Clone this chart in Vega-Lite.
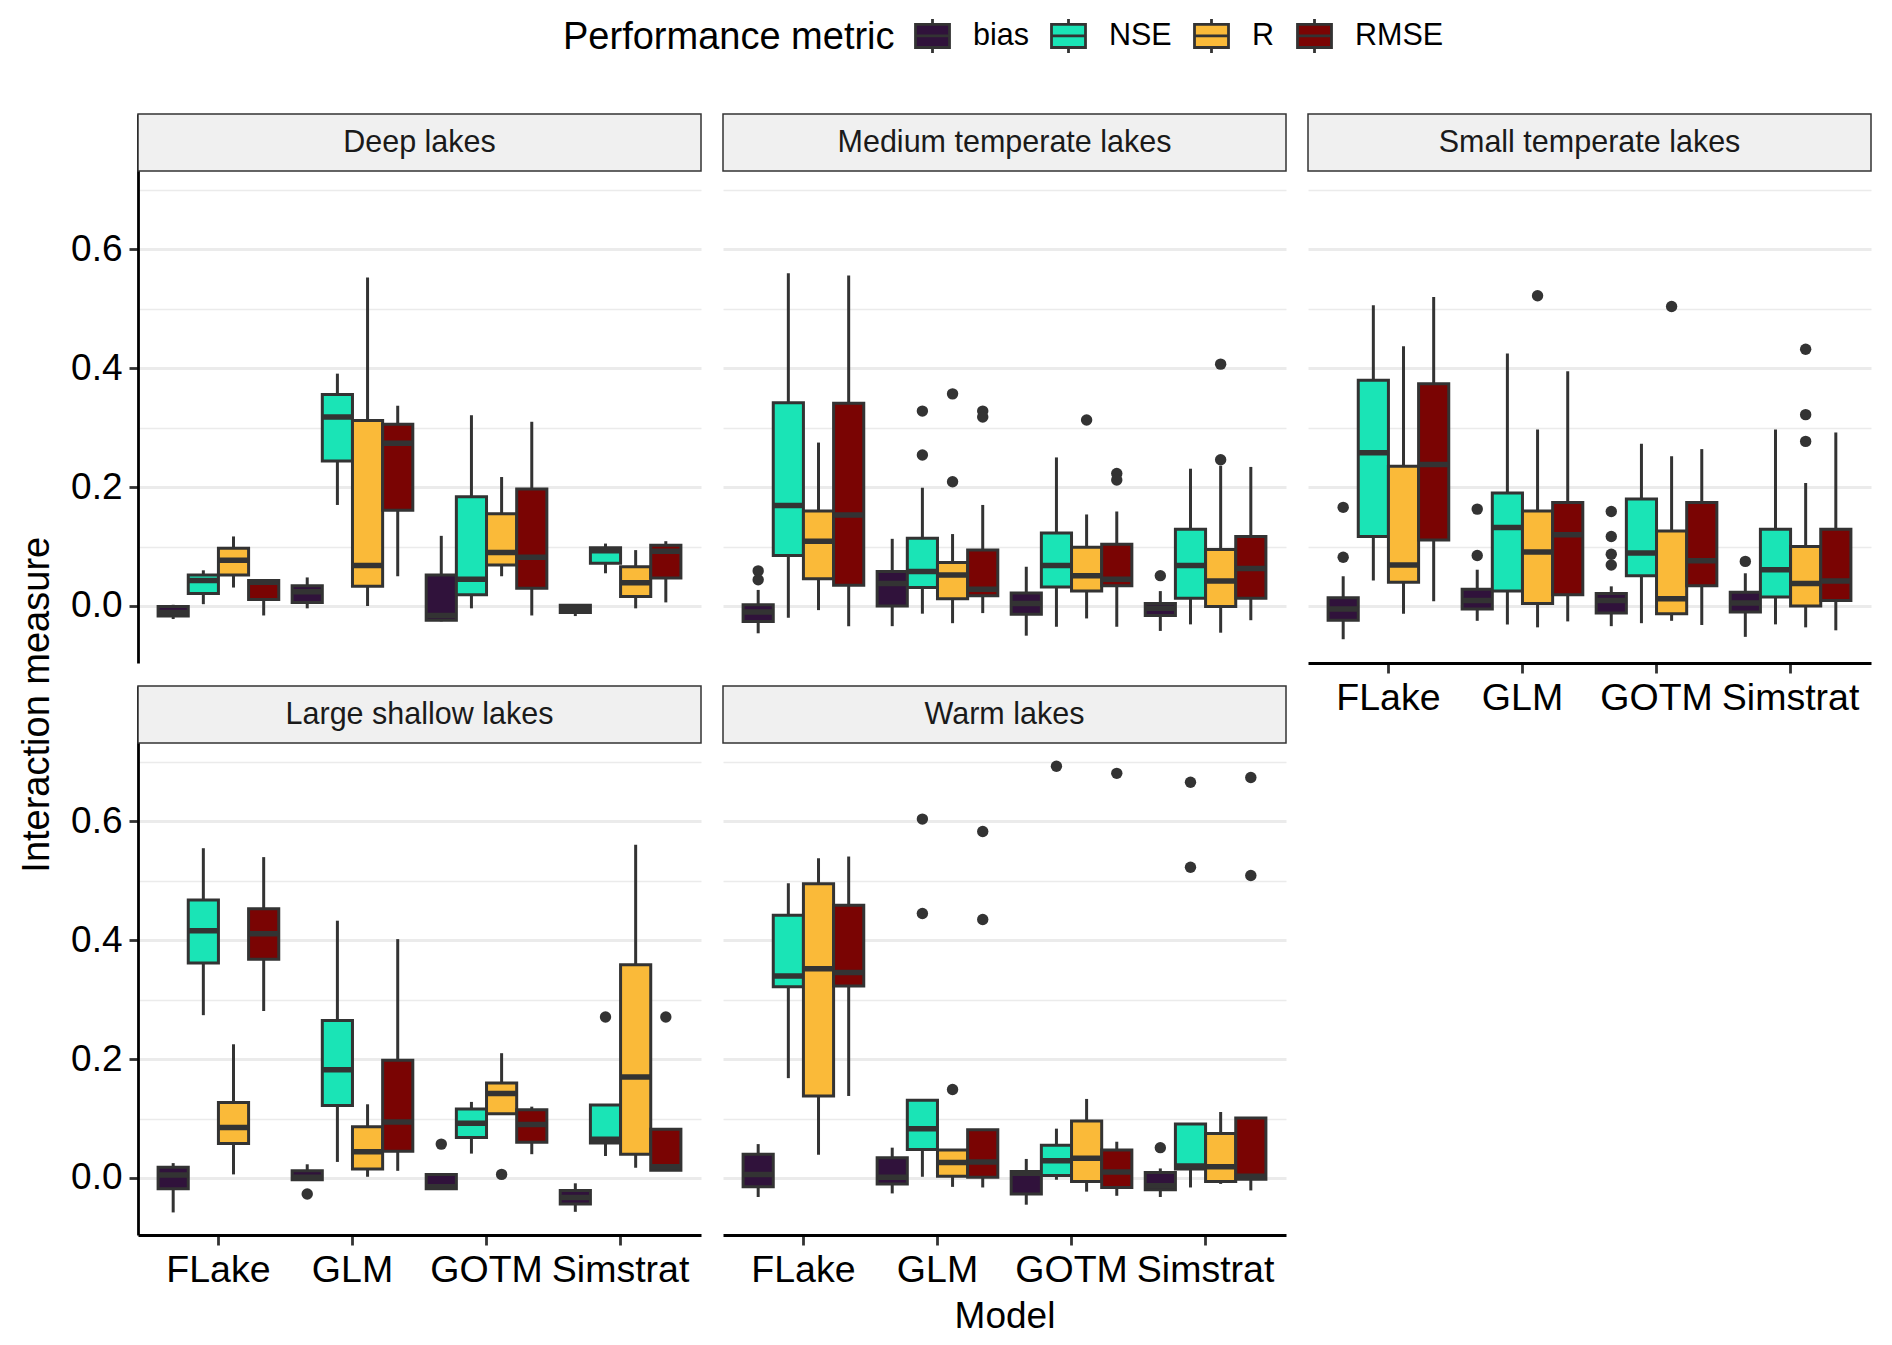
{
  "$schema": "https://vega.github.io/schema/vega-lite/v6.json",
  "background": "white",
  "padding": {"left": 18, "top": 17, "right": 5, "bottom": 5},
  "title": {"text": "Interaction measure", "orient": "left", "anchor": "middle", "fontSize": 38, "fontWeight": "normal", "color": "black", "offset": 14, "dx": -29},
  "datasets": {
    "boxes": [
      {"panel": "Deep lakes", "model": "FLake", "metric": "bias", "lower": -0.022, "q1": -0.017, "median": -0.011, "q3": -0.001, "upper": 0.002},
      {"panel": "Deep lakes", "model": "FLake", "metric": "NSE", "lower": 0.003, "q1": 0.021, "median": 0.043, "q3": 0.052, "upper": 0.060},
      {"panel": "Deep lakes", "model": "FLake", "metric": "R", "lower": 0.031, "q1": 0.052, "median": 0.077, "q3": 0.097, "upper": 0.117},
      {"panel": "Deep lakes", "model": "FLake", "metric": "RMSE", "lower": -0.016, "q1": 0.011, "median": 0.040, "q3": 0.043, "upper": 0.043},
      {"panel": "Deep lakes", "model": "GLM", "metric": "bias", "lower": -0.004, "q1": 0.006, "median": 0.024, "q3": 0.034, "upper": 0.048},
      {"panel": "Deep lakes", "model": "GLM", "metric": "NSE", "lower": 0.170, "q1": 0.244, "median": 0.318, "q3": 0.356, "upper": 0.391},
      {"panel": "Deep lakes", "model": "GLM", "metric": "R", "lower": 0.000, "q1": 0.033, "median": 0.068, "q3": 0.312, "upper": 0.553},
      {"panel": "Deep lakes", "model": "GLM", "metric": "RMSE", "lower": 0.050, "q1": 0.161, "median": 0.274, "q3": 0.306, "upper": 0.337},
      {"panel": "Deep lakes", "model": "GOTM", "metric": "bias", "lower": -0.026, "q1": -0.024, "median": -0.016, "q3": 0.052, "upper": 0.118},
      {"panel": "Deep lakes", "model": "GOTM", "metric": "NSE", "lower": -0.004, "q1": 0.019, "median": 0.045, "q3": 0.184, "upper": 0.321},
      {"panel": "Deep lakes", "model": "GOTM", "metric": "R", "lower": 0.050, "q1": 0.069, "median": 0.090, "q3": 0.155, "upper": 0.217},
      {"panel": "Deep lakes", "model": "GOTM", "metric": "RMSE", "lower": -0.016, "q1": 0.030, "median": 0.082, "q3": 0.197, "upper": 0.310},
      {"panel": "Deep lakes", "model": "Simstrat", "metric": "bias", "lower": -0.017, "q1": -0.011, "median": -0.004, "q3": 0.001, "upper": 0.001},
      {"panel": "Deep lakes", "model": "Simstrat", "metric": "NSE", "lower": 0.055, "q1": 0.072, "median": 0.093, "q3": 0.098, "upper": 0.105},
      {"panel": "Deep lakes", "model": "Simstrat", "metric": "R", "lower": -0.004, "q1": 0.016, "median": 0.039, "q3": 0.066, "upper": 0.094},
      {"panel": "Deep lakes", "model": "Simstrat", "metric": "RMSE", "lower": 0.006, "q1": 0.047, "median": 0.092, "q3": 0.102, "upper": 0.109},

      {"panel": "Medium temperate lakes", "model": "FLake", "metric": "bias", "lower": -0.046, "q1": -0.026, "median": -0.010, "q3": 0.002, "upper": 0.027},
      {"panel": "Medium temperate lakes", "model": "FLake", "metric": "NSE", "lower": -0.020, "q1": 0.085, "median": 0.169, "q3": 0.342, "upper": 0.560},
      {"panel": "Medium temperate lakes", "model": "FLake", "metric": "R", "lower": -0.007, "q1": 0.046, "median": 0.109, "q3": 0.160, "upper": 0.275},
      {"panel": "Medium temperate lakes", "model": "FLake", "metric": "RMSE", "lower": -0.034, "q1": 0.035, "median": 0.153, "q3": 0.341, "upper": 0.556},
      {"panel": "Medium temperate lakes", "model": "GLM", "metric": "bias", "lower": -0.034, "q1": 0.000, "median": 0.038, "q3": 0.058, "upper": 0.113},
      {"panel": "Medium temperate lakes", "model": "GLM", "metric": "NSE", "lower": -0.013, "q1": 0.031, "median": 0.058, "q3": 0.114, "upper": 0.199},
      {"panel": "Medium temperate lakes", "model": "GLM", "metric": "R", "lower": -0.029, "q1": 0.012, "median": 0.052, "q3": 0.073, "upper": 0.121},
      {"panel": "Medium temperate lakes", "model": "GLM", "metric": "RMSE", "lower": -0.012, "q1": 0.017, "median": 0.028, "q3": 0.094, "upper": 0.170},
      {"panel": "Medium temperate lakes", "model": "GOTM", "metric": "bias", "lower": -0.050, "q1": -0.014, "median": 0.004, "q3": 0.022, "upper": 0.066},
      {"panel": "Medium temperate lakes", "model": "GOTM", "metric": "NSE", "lower": -0.035, "q1": 0.032, "median": 0.068, "q3": 0.123, "upper": 0.250},
      {"panel": "Medium temperate lakes", "model": "GOTM", "metric": "R", "lower": -0.021, "q1": 0.025, "median": 0.051, "q3": 0.099, "upper": 0.154},
      {"panel": "Medium temperate lakes", "model": "GOTM", "metric": "RMSE", "lower": -0.035, "q1": 0.034, "median": 0.045, "q3": 0.104, "upper": 0.159},
      {"panel": "Medium temperate lakes", "model": "Simstrat", "metric": "bias", "lower": -0.042, "q1": -0.016, "median": -0.004, "q3": 0.004, "upper": 0.025},
      {"panel": "Medium temperate lakes", "model": "Simstrat", "metric": "NSE", "lower": -0.031, "q1": 0.013, "median": 0.068, "q3": 0.129, "upper": 0.231},
      {"panel": "Medium temperate lakes", "model": "Simstrat", "metric": "R", "lower": -0.045, "q1": -0.001, "median": 0.042, "q3": 0.095, "upper": 0.236},
      {"panel": "Medium temperate lakes", "model": "Simstrat", "metric": "RMSE", "lower": -0.024, "q1": 0.013, "median": 0.063, "q3": 0.117, "upper": 0.234},

      {"panel": "Small temperate lakes", "model": "FLake", "metric": "bias", "lower": -0.056, "q1": -0.024, "median": -0.005, "q3": 0.014, "upper": 0.050},
      {"panel": "Small temperate lakes", "model": "FLake", "metric": "NSE", "lower": 0.043, "q1": 0.117, "median": 0.258, "q3": 0.380, "upper": 0.506},
      {"panel": "Small temperate lakes", "model": "FLake", "metric": "R", "lower": -0.013, "q1": 0.040, "median": 0.069, "q3": 0.235, "upper": 0.437},
      {"panel": "Small temperate lakes", "model": "FLake", "metric": "RMSE", "lower": 0.008, "q1": 0.111, "median": 0.238, "q3": 0.374, "upper": 0.520},
      {"panel": "Small temperate lakes", "model": "GLM", "metric": "bias", "lower": -0.025, "q1": -0.005, "median": 0.009, "q3": 0.028, "upper": 0.061},
      {"panel": "Small temperate lakes", "model": "GLM", "metric": "NSE", "lower": -0.031, "q1": 0.025, "median": 0.132, "q3": 0.190, "upper": 0.425},
      {"panel": "Small temperate lakes", "model": "GLM", "metric": "R", "lower": -0.036, "q1": 0.004, "median": 0.091, "q3": 0.160, "upper": 0.297},
      {"panel": "Small temperate lakes", "model": "GLM", "metric": "RMSE", "lower": -0.026, "q1": 0.019, "median": 0.120, "q3": 0.174, "upper": 0.395},
      {"panel": "Small temperate lakes", "model": "GOTM", "metric": "bias", "lower": -0.034, "q1": -0.012, "median": 0.009, "q3": 0.021, "upper": 0.033},
      {"panel": "Small temperate lakes", "model": "GOTM", "metric": "NSE", "lower": -0.029, "q1": 0.051, "median": 0.089, "q3": 0.180, "upper": 0.273},
      {"panel": "Small temperate lakes", "model": "GOTM", "metric": "R", "lower": -0.025, "q1": -0.013, "median": 0.012, "q3": 0.126, "upper": 0.252},
      {"panel": "Small temperate lakes", "model": "GOTM", "metric": "RMSE", "lower": -0.032, "q1": 0.034, "median": 0.076, "q3": 0.174, "upper": 0.264},
      {"panel": "Small temperate lakes", "model": "Simstrat", "metric": "bias", "lower": -0.052, "q1": -0.010, "median": 0.005, "q3": 0.023, "upper": 0.055},
      {"panel": "Small temperate lakes", "model": "Simstrat", "metric": "NSE", "lower": -0.031, "q1": 0.015, "median": 0.061, "q3": 0.129, "upper": 0.297},
      {"panel": "Small temperate lakes", "model": "Simstrat", "metric": "R", "lower": -0.036, "q1": 0.000, "median": 0.038, "q3": 0.100, "upper": 0.207},
      {"panel": "Small temperate lakes", "model": "Simstrat", "metric": "RMSE", "lower": -0.041, "q1": 0.009, "median": 0.042, "q3": 0.129, "upper": 0.292},

      {"panel": "Large shallow lakes", "model": "FLake", "metric": "bias", "lower": -0.058, "q1": -0.018, "median": 0.005, "q3": 0.018, "upper": 0.025},
      {"panel": "Large shallow lakes", "model": "FLake", "metric": "NSE", "lower": 0.274, "q1": 0.362, "median": 0.416, "q3": 0.468, "upper": 0.555},
      {"panel": "Large shallow lakes", "model": "FLake", "metric": "R", "lower": 0.006, "q1": 0.058, "median": 0.085, "q3": 0.127, "upper": 0.225},
      {"panel": "Large shallow lakes", "model": "FLake", "metric": "RMSE", "lower": 0.281, "q1": 0.368, "median": 0.411, "q3": 0.453, "upper": 0.540},
      {"panel": "Large shallow lakes", "model": "GLM", "metric": "bias", "lower": -0.003, "q1": -0.003, "median": 0.001, "q3": 0.012, "upper": 0.023},
      {"panel": "Large shallow lakes", "model": "GLM", "metric": "NSE", "lower": 0.027, "q1": 0.122, "median": 0.182, "q3": 0.265, "upper": 0.433},
      {"panel": "Large shallow lakes", "model": "GLM", "metric": "R", "lower": 0.002, "q1": 0.015, "median": 0.044, "q3": 0.086, "upper": 0.124},
      {"panel": "Large shallow lakes", "model": "GLM", "metric": "RMSE", "lower": 0.012, "q1": 0.045, "median": 0.094, "q3": 0.198, "upper": 0.402},
      {"panel": "Large shallow lakes", "model": "GOTM", "metric": "bias", "lower": -0.018, "q1": -0.018, "median": -0.015, "q3": 0.006, "upper": 0.006},
      {"panel": "Large shallow lakes", "model": "GOTM", "metric": "NSE", "lower": 0.041, "q1": 0.068, "median": 0.092, "q3": 0.116, "upper": 0.128},
      {"panel": "Large shallow lakes", "model": "GOTM", "metric": "R", "lower": 0.108, "q1": 0.108, "median": 0.142, "q3": 0.160, "upper": 0.210},
      {"panel": "Large shallow lakes", "model": "GOTM", "metric": "RMSE", "lower": 0.040, "q1": 0.060, "median": 0.090, "q3": 0.115, "upper": 0.120},
      {"panel": "Large shallow lakes", "model": "Simstrat", "metric": "bias", "lower": -0.057, "q1": -0.044, "median": -0.033, "q3": -0.021, "upper": -0.009},
      {"panel": "Large shallow lakes", "model": "Simstrat", "metric": "NSE", "lower": 0.037, "q1": 0.059, "median": 0.065, "q3": 0.123, "upper": 0.123},
      {"panel": "Large shallow lakes", "model": "Simstrat", "metric": "R", "lower": 0.017, "q1": 0.040, "median": 0.170, "q3": 0.359, "upper": 0.561},
      {"panel": "Large shallow lakes", "model": "Simstrat", "metric": "RMSE", "lower": 0.013, "q1": 0.013, "median": 0.019, "q3": 0.082, "upper": 0.082},

      {"panel": "Warm lakes", "model": "FLake", "metric": "bias", "lower": -0.032, "q1": -0.015, "median": 0.006, "q3": 0.040, "upper": 0.057},
      {"panel": "Warm lakes", "model": "FLake", "metric": "NSE", "lower": 0.168, "q1": 0.322, "median": 0.340, "q3": 0.442, "upper": 0.496},
      {"panel": "Warm lakes", "model": "FLake", "metric": "R", "lower": 0.039, "q1": 0.138, "median": 0.352, "q3": 0.495, "upper": 0.538},
      {"panel": "Warm lakes", "model": "FLake", "metric": "RMSE", "lower": 0.138, "q1": 0.323, "median": 0.346, "q3": 0.459, "upper": 0.541},
      {"panel": "Warm lakes", "model": "GLM", "metric": "bias", "lower": -0.026, "q1": -0.010, "median": 0.001, "q3": 0.034, "upper": 0.051},
      {"panel": "Warm lakes", "model": "GLM", "metric": "NSE", "lower": 0.002, "q1": 0.048, "median": 0.083, "q3": 0.131, "upper": 0.131},
      {"panel": "Warm lakes", "model": "GLM", "metric": "R", "lower": -0.015, "q1": 0.003, "median": 0.026, "q3": 0.047, "upper": 0.047},
      {"panel": "Warm lakes", "model": "GLM", "metric": "RMSE", "lower": -0.016, "q1": 0.001, "median": 0.027, "q3": 0.081, "upper": 0.081},
      {"panel": "Warm lakes", "model": "GOTM", "metric": "bias", "lower": -0.045, "q1": -0.027, "median": 0.008, "q3": 0.011, "upper": 0.032},
      {"panel": "Warm lakes", "model": "GOTM", "metric": "NSE", "lower": -0.003, "q1": 0.004, "median": 0.029, "q3": 0.055, "upper": 0.083},
      {"panel": "Warm lakes", "model": "GOTM", "metric": "R", "lower": -0.023, "q1": -0.006, "median": 0.033, "q3": 0.096, "upper": 0.133},
      {"panel": "Warm lakes", "model": "GOTM", "metric": "RMSE", "lower": -0.030, "q1": -0.016, "median": 0.010, "q3": 0.047, "upper": 0.061},
      {"panel": "Warm lakes", "model": "Simstrat", "metric": "bias", "lower": -0.032, "q1": -0.020, "median": -0.013, "q3": 0.009, "upper": 0.016},
      {"panel": "Warm lakes", "model": "Simstrat", "metric": "NSE", "lower": -0.016, "q1": 0.015, "median": 0.020, "q3": 0.091, "upper": 0.091},
      {"panel": "Warm lakes", "model": "Simstrat", "metric": "R", "lower": -0.010, "q1": -0.006, "median": 0.019, "q3": 0.075, "upper": 0.111},
      {"panel": "Warm lakes", "model": "Simstrat", "metric": "RMSE", "lower": -0.021, "q1": -0.002, "median": 0.003, "q3": 0.101, "upper": 0.101}
    ],
    "outliers": [
      {"panel": "Medium temperate lakes", "model": "FLake", "metric": "bias", "value": 0.059},
      {"panel": "Medium temperate lakes", "model": "FLake", "metric": "bias", "value": 0.044},
      {"panel": "Medium temperate lakes", "model": "GLM", "metric": "NSE", "value": 0.328},
      {"panel": "Medium temperate lakes", "model": "GLM", "metric": "NSE", "value": 0.254},
      {"panel": "Medium temperate lakes", "model": "GLM", "metric": "R", "value": 0.357},
      {"panel": "Medium temperate lakes", "model": "GLM", "metric": "R", "value": 0.209},
      {"panel": "Medium temperate lakes", "model": "GLM", "metric": "RMSE", "value": 0.328},
      {"panel": "Medium temperate lakes", "model": "GLM", "metric": "RMSE", "value": 0.318},
      {"panel": "Medium temperate lakes", "model": "GOTM", "metric": "R", "value": 0.313},
      {"panel": "Medium temperate lakes", "model": "GOTM", "metric": "RMSE", "value": 0.223},
      {"panel": "Medium temperate lakes", "model": "GOTM", "metric": "RMSE", "value": 0.212},
      {"panel": "Medium temperate lakes", "model": "Simstrat", "metric": "bias", "value": 0.051},
      {"panel": "Medium temperate lakes", "model": "Simstrat", "metric": "R", "value": 0.407},
      {"panel": "Medium temperate lakes", "model": "Simstrat", "metric": "R", "value": 0.246},
      {"panel": "Small temperate lakes", "model": "FLake", "metric": "bias", "value": 0.166},
      {"panel": "Small temperate lakes", "model": "FLake", "metric": "bias", "value": 0.082},
      {"panel": "Small temperate lakes", "model": "GLM", "metric": "bias", "value": 0.163},
      {"panel": "Small temperate lakes", "model": "GLM", "metric": "bias", "value": 0.085},
      {"panel": "Small temperate lakes", "model": "GLM", "metric": "R", "value": 0.522},
      {"panel": "Small temperate lakes", "model": "GOTM", "metric": "bias", "value": 0.159},
      {"panel": "Small temperate lakes", "model": "GOTM", "metric": "bias", "value": 0.117},
      {"panel": "Small temperate lakes", "model": "GOTM", "metric": "bias", "value": 0.087},
      {"panel": "Small temperate lakes", "model": "GOTM", "metric": "bias", "value": 0.069},
      {"panel": "Small temperate lakes", "model": "GOTM", "metric": "R", "value": 0.504},
      {"panel": "Small temperate lakes", "model": "Simstrat", "metric": "bias", "value": 0.075},
      {"panel": "Small temperate lakes", "model": "Simstrat", "metric": "R", "value": 0.432},
      {"panel": "Small temperate lakes", "model": "Simstrat", "metric": "R", "value": 0.322},
      {"panel": "Small temperate lakes", "model": "Simstrat", "metric": "R", "value": 0.277},
      {"panel": "Large shallow lakes", "model": "GLM", "metric": "bias", "value": -0.027},
      {"panel": "Large shallow lakes", "model": "GOTM", "metric": "bias", "value": 0.057},
      {"panel": "Large shallow lakes", "model": "GOTM", "metric": "R", "value": 0.006},
      {"panel": "Large shallow lakes", "model": "Simstrat", "metric": "NSE", "value": 0.271},
      {"panel": "Large shallow lakes", "model": "Simstrat", "metric": "RMSE", "value": 0.271},
      {"panel": "Warm lakes", "model": "GLM", "metric": "NSE", "value": 0.604},
      {"panel": "Warm lakes", "model": "GLM", "metric": "NSE", "value": 0.445},
      {"panel": "Warm lakes", "model": "GLM", "metric": "R", "value": 0.149},
      {"panel": "Warm lakes", "model": "GLM", "metric": "RMSE", "value": 0.583},
      {"panel": "Warm lakes", "model": "GLM", "metric": "RMSE", "value": 0.435},
      {"panel": "Warm lakes", "model": "GOTM", "metric": "NSE", "value": 0.693},
      {"panel": "Warm lakes", "model": "GOTM", "metric": "RMSE", "value": 0.681},
      {"panel": "Warm lakes", "model": "Simstrat", "metric": "bias", "value": 0.051},
      {"panel": "Warm lakes", "model": "Simstrat", "metric": "NSE", "value": 0.666},
      {"panel": "Warm lakes", "model": "Simstrat", "metric": "NSE", "value": 0.523},
      {"panel": "Warm lakes", "model": "Simstrat", "metric": "RMSE", "value": 0.674},
      {"panel": "Warm lakes", "model": "Simstrat", "metric": "RMSE", "value": 0.509}
    ]
  },
  "columns": 3,
  "spacing": {"row": 23, "column": 22},
  "bounds": "flush",
  "concat": [
    {
      "width": 563, "height": 549,
      "layer": [
        {"data": {"name": "boxes"}, "transform": [{"filter": "datum.panel === 'Deep lakes'"}],
         "mark": {"type": "rule", "color": "#333333", "strokeWidth": 3},
         "encoding": {
           "x": {"field": "model", "type": "nominal", "sort": ["FLake", "GLM", "GOTM", "Simstrat"], "title": null, "scale": {"paddingInner": 0, "paddingOuter": 0.1}, "axis": {"labels": false, "ticks": false, "domain": false}},
           "xOffset": {"field": "metric", "type": "nominal", "sort": ["bias", "NSE", "R", "RMSE"], "scale": {"paddingInner": 0, "paddingOuter": 0.222}},
           "y": {"field": "lower", "type": "quantitative", "title": null, "scale": {"domain": [-0.096, 0.828], "nice": false, "zero": false},
                 "axis": {"values": [0, 0.1, 0.2, 0.3, 0.4, 0.5, 0.6, 0.7], "labelExpr": "round(datum.value*10) % 2 == 0 ? format(datum.value, '.1f') : ''",
                          "gridWidth": {"condition": {"test": "round(datum.value*10) % 2 != 0", "value": 1.5}, "value": 3},
                          "tickOpacity": {"condition": {"test": "round(datum.value*10) % 2 != 0", "value": 0}, "value": 1}}},
           "y2": {"field": "upper"}
         }},
        {"data": {"name": "boxes"}, "transform": [{"filter": "datum.panel === 'Deep lakes'"}],
         "mark": {"type": "bar", "stroke": "#333333", "strokeWidth": 3},
         "encoding": {
           "x": {"field": "model", "type": "nominal", "sort": ["FLake", "GLM", "GOTM", "Simstrat"], "title": null},
           "xOffset": {"field": "metric", "type": "nominal", "sort": ["bias", "NSE", "R", "RMSE"]},
           "y": {"field": "q1", "type": "quantitative", "title": null},
           "y2": {"field": "q3"},
           "color": {"field": "metric", "type": "nominal", "title": "Performance metric", "scale": {"domain": ["bias", "NSE", "R", "RMSE"], "range": ["#30123B", "#1AE4B6", "#FABA39", "#7A0403"]}}
         }},
        {"data": {"name": "boxes"}, "transform": [{"filter": "datum.panel === 'Deep lakes'"}],
         "mark": {"type": "bar", "fill": "#333333", "stroke": "#333333", "strokeWidth": 5.5},
         "encoding": {
           "x": {"field": "model", "type": "nominal", "sort": ["FLake", "GLM", "GOTM", "Simstrat"], "title": null},
           "xOffset": {"field": "metric", "type": "nominal", "sort": ["bias", "NSE", "R", "RMSE"]},
           "y": {"field": "median", "type": "quantitative", "title": null},
           "y2": {"field": "median"}
         }},
        {"data": {"name": "outliers"}, "transform": [{"filter": "datum.panel === 'Deep lakes'"}],
         "mark": {"type": "point", "filled": true, "color": "#333333", "size": 130, "opacity": 1},
         "encoding": {
           "x": {"field": "model", "type": "nominal", "sort": ["FLake", "GLM", "GOTM", "Simstrat"], "title": null},
           "xOffset": {"field": "metric", "type": "nominal", "sort": ["bias", "NSE", "R", "RMSE"]},
           "y": {"field": "value", "type": "quantitative", "title": null}
         }},
        {"data": {"values": [{"strip": "Deep lakes"}]},
         "mark": {"type": "rect", "fill": "#F0F0F0", "stroke": "#333333", "strokeWidth": 1.5},
         "encoding": {"y": {"datum": 0.732, "type": "quantitative", "title": null}, "y2": {"datum": 0.828}}},
        {"data": {"values": [{"strip": "Deep lakes"}]},
         "mark": {"type": "text", "fontSize": 30.5, "color": "#1A1A1A"},
         "encoding": {"y": {"datum": 0.780, "type": "quantitative", "title": null}, "text": {"field": "strip"}}}
      ]
    },
    {
      "width": 563, "height": 549,
      "layer": [
        {"data": {"name": "boxes"}, "transform": [{"filter": "datum.panel === 'Medium temperate lakes'"}],
         "mark": {"type": "rule", "color": "#333333", "strokeWidth": 3},
         "encoding": {
           "x": {"field": "model", "type": "nominal", "sort": ["FLake", "GLM", "GOTM", "Simstrat"], "title": null, "scale": {"paddingInner": 0, "paddingOuter": 0.1}, "axis": {"labels": false, "ticks": false, "domain": false}},
           "xOffset": {"field": "metric", "type": "nominal", "sort": ["bias", "NSE", "R", "RMSE"], "scale": {"paddingInner": 0, "paddingOuter": 0.222}},
           "y": {"field": "lower", "type": "quantitative", "title": null, "scale": {"domain": [-0.096, 0.828], "nice": false, "zero": false},
                 "axis": {"values": [0, 0.1, 0.2, 0.3, 0.4, 0.5, 0.6, 0.7], "labels": false, "ticks": false, "domain": false,
                          "gridWidth": {"condition": {"test": "round(datum.value*10) % 2 != 0", "value": 1.5}, "value": 3}}},
           "y2": {"field": "upper"}
         }},
        {"data": {"name": "boxes"}, "transform": [{"filter": "datum.panel === 'Medium temperate lakes'"}],
         "mark": {"type": "bar", "stroke": "#333333", "strokeWidth": 3},
         "encoding": {
           "x": {"field": "model", "type": "nominal", "sort": ["FLake", "GLM", "GOTM", "Simstrat"], "title": null},
           "xOffset": {"field": "metric", "type": "nominal", "sort": ["bias", "NSE", "R", "RMSE"]},
           "y": {"field": "q1", "type": "quantitative", "title": null},
           "y2": {"field": "q3"},
           "color": {"field": "metric", "type": "nominal", "title": "Performance metric", "scale": {"domain": ["bias", "NSE", "R", "RMSE"], "range": ["#30123B", "#1AE4B6", "#FABA39", "#7A0403"]}}
         }},
        {"data": {"name": "boxes"}, "transform": [{"filter": "datum.panel === 'Medium temperate lakes'"}],
         "mark": {"type": "bar", "fill": "#333333", "stroke": "#333333", "strokeWidth": 5.5},
         "encoding": {
           "x": {"field": "model", "type": "nominal", "sort": ["FLake", "GLM", "GOTM", "Simstrat"], "title": null},
           "xOffset": {"field": "metric", "type": "nominal", "sort": ["bias", "NSE", "R", "RMSE"]},
           "y": {"field": "median", "type": "quantitative", "title": null},
           "y2": {"field": "median"}
         }},
        {"data": {"name": "outliers"}, "transform": [{"filter": "datum.panel === 'Medium temperate lakes'"}],
         "mark": {"type": "point", "filled": true, "color": "#333333", "size": 130, "opacity": 1},
         "encoding": {
           "x": {"field": "model", "type": "nominal", "sort": ["FLake", "GLM", "GOTM", "Simstrat"], "title": null},
           "xOffset": {"field": "metric", "type": "nominal", "sort": ["bias", "NSE", "R", "RMSE"]},
           "y": {"field": "value", "type": "quantitative", "title": null}
         }},
        {"data": {"values": [{"strip": "Medium temperate lakes"}]},
         "mark": {"type": "rect", "fill": "#F0F0F0", "stroke": "#333333", "strokeWidth": 1.5},
         "encoding": {"y": {"datum": 0.732, "type": "quantitative", "title": null}, "y2": {"datum": 0.828}}},
        {"data": {"values": [{"strip": "Medium temperate lakes"}]},
         "mark": {"type": "text", "fontSize": 30.5, "color": "#1A1A1A"},
         "encoding": {"y": {"datum": 0.780, "type": "quantitative", "title": null}, "text": {"field": "strip"}}}
      ]
    },
    {
      "width": 563, "height": 549,
      "layer": [
        {"data": {"name": "boxes"}, "transform": [{"filter": "datum.panel === 'Small temperate lakes'"}],
         "mark": {"type": "rule", "color": "#333333", "strokeWidth": 3},
         "encoding": {
           "x": {"field": "model", "type": "nominal", "sort": ["FLake", "GLM", "GOTM", "Simstrat"], "title": null, "scale": {"paddingInner": 0, "paddingOuter": 0.1}},
           "xOffset": {"field": "metric", "type": "nominal", "sort": ["bias", "NSE", "R", "RMSE"], "scale": {"paddingInner": 0, "paddingOuter": 0.222}},
           "y": {"field": "lower", "type": "quantitative", "title": null, "scale": {"domain": [-0.096, 0.828], "nice": false, "zero": false},
                 "axis": {"values": [0, 0.1, 0.2, 0.3, 0.4, 0.5, 0.6, 0.7], "labels": false, "ticks": false, "domain": false,
                          "gridWidth": {"condition": {"test": "round(datum.value*10) % 2 != 0", "value": 1.5}, "value": 3}}},
           "y2": {"field": "upper"}
         }},
        {"data": {"name": "boxes"}, "transform": [{"filter": "datum.panel === 'Small temperate lakes'"}],
         "mark": {"type": "bar", "stroke": "#333333", "strokeWidth": 3},
         "encoding": {
           "x": {"field": "model", "type": "nominal", "sort": ["FLake", "GLM", "GOTM", "Simstrat"], "title": null},
           "xOffset": {"field": "metric", "type": "nominal", "sort": ["bias", "NSE", "R", "RMSE"]},
           "y": {"field": "q1", "type": "quantitative", "title": null},
           "y2": {"field": "q3"},
           "color": {"field": "metric", "type": "nominal", "title": "Performance metric", "scale": {"domain": ["bias", "NSE", "R", "RMSE"], "range": ["#30123B", "#1AE4B6", "#FABA39", "#7A0403"]}}
         }},
        {"data": {"name": "boxes"}, "transform": [{"filter": "datum.panel === 'Small temperate lakes'"}],
         "mark": {"type": "bar", "fill": "#333333", "stroke": "#333333", "strokeWidth": 5.5},
         "encoding": {
           "x": {"field": "model", "type": "nominal", "sort": ["FLake", "GLM", "GOTM", "Simstrat"], "title": null},
           "xOffset": {"field": "metric", "type": "nominal", "sort": ["bias", "NSE", "R", "RMSE"]},
           "y": {"field": "median", "type": "quantitative", "title": null},
           "y2": {"field": "median"}
         }},
        {"data": {"name": "outliers"}, "transform": [{"filter": "datum.panel === 'Small temperate lakes'"}],
         "mark": {"type": "point", "filled": true, "color": "#333333", "size": 130, "opacity": 1},
         "encoding": {
           "x": {"field": "model", "type": "nominal", "sort": ["FLake", "GLM", "GOTM", "Simstrat"], "title": null},
           "xOffset": {"field": "metric", "type": "nominal", "sort": ["bias", "NSE", "R", "RMSE"]},
           "y": {"field": "value", "type": "quantitative", "title": null}
         }},
        {"data": {"values": [{"strip": "Small temperate lakes"}]},
         "mark": {"type": "rect", "fill": "#F0F0F0", "stroke": "#333333", "strokeWidth": 1.5},
         "encoding": {"y": {"datum": 0.732, "type": "quantitative", "title": null}, "y2": {"datum": 0.828}}},
        {"data": {"values": [{"strip": "Small temperate lakes"}]},
         "mark": {"type": "text", "fontSize": 30.5, "color": "#1A1A1A"},
         "encoding": {"y": {"datum": 0.780, "type": "quantitative", "title": null}, "text": {"field": "strip"}}}
      ]
    },
    {
      "width": 563, "height": 549,
      "layer": [
        {"data": {"name": "boxes"}, "transform": [{"filter": "datum.panel === 'Large shallow lakes'"}],
         "mark": {"type": "rule", "color": "#333333", "strokeWidth": 3},
         "encoding": {
           "x": {"field": "model", "type": "nominal", "sort": ["FLake", "GLM", "GOTM", "Simstrat"], "title": null, "scale": {"paddingInner": 0, "paddingOuter": 0.1}},
           "xOffset": {"field": "metric", "type": "nominal", "sort": ["bias", "NSE", "R", "RMSE"], "scale": {"paddingInner": 0, "paddingOuter": 0.222}},
           "y": {"field": "lower", "type": "quantitative", "title": null, "scale": {"domain": [-0.096, 0.828], "nice": false, "zero": false},
                 "axis": {"values": [0, 0.1, 0.2, 0.3, 0.4, 0.5, 0.6, 0.7], "labelExpr": "round(datum.value*10) % 2 == 0 ? format(datum.value, '.1f') : ''",
                          "gridWidth": {"condition": {"test": "round(datum.value*10) % 2 != 0", "value": 1.5}, "value": 3},
                          "tickOpacity": {"condition": {"test": "round(datum.value*10) % 2 != 0", "value": 0}, "value": 1}}},
           "y2": {"field": "upper"}
         }},
        {"data": {"name": "boxes"}, "transform": [{"filter": "datum.panel === 'Large shallow lakes'"}],
         "mark": {"type": "bar", "stroke": "#333333", "strokeWidth": 3},
         "encoding": {
           "x": {"field": "model", "type": "nominal", "sort": ["FLake", "GLM", "GOTM", "Simstrat"], "title": null},
           "xOffset": {"field": "metric", "type": "nominal", "sort": ["bias", "NSE", "R", "RMSE"]},
           "y": {"field": "q1", "type": "quantitative", "title": null},
           "y2": {"field": "q3"},
           "color": {"field": "metric", "type": "nominal", "title": "Performance metric", "scale": {"domain": ["bias", "NSE", "R", "RMSE"], "range": ["#30123B", "#1AE4B6", "#FABA39", "#7A0403"]}}
         }},
        {"data": {"name": "boxes"}, "transform": [{"filter": "datum.panel === 'Large shallow lakes'"}],
         "mark": {"type": "bar", "fill": "#333333", "stroke": "#333333", "strokeWidth": 5.5},
         "encoding": {
           "x": {"field": "model", "type": "nominal", "sort": ["FLake", "GLM", "GOTM", "Simstrat"], "title": null},
           "xOffset": {"field": "metric", "type": "nominal", "sort": ["bias", "NSE", "R", "RMSE"]},
           "y": {"field": "median", "type": "quantitative", "title": null},
           "y2": {"field": "median"}
         }},
        {"data": {"name": "outliers"}, "transform": [{"filter": "datum.panel === 'Large shallow lakes'"}],
         "mark": {"type": "point", "filled": true, "color": "#333333", "size": 130, "opacity": 1},
         "encoding": {
           "x": {"field": "model", "type": "nominal", "sort": ["FLake", "GLM", "GOTM", "Simstrat"], "title": null},
           "xOffset": {"field": "metric", "type": "nominal", "sort": ["bias", "NSE", "R", "RMSE"]},
           "y": {"field": "value", "type": "quantitative", "title": null}
         }},
        {"data": {"values": [{"strip": "Large shallow lakes"}]},
         "mark": {"type": "rect", "fill": "#F0F0F0", "stroke": "#333333", "strokeWidth": 1.5},
         "encoding": {"y": {"datum": 0.732, "type": "quantitative", "title": null}, "y2": {"datum": 0.828}}},
        {"data": {"values": [{"strip": "Large shallow lakes"}]},
         "mark": {"type": "text", "fontSize": 30.5, "color": "#1A1A1A"},
         "encoding": {"y": {"datum": 0.780, "type": "quantitative", "title": null}, "text": {"field": "strip"}}}
      ]
    },
    {
      "width": 563, "height": 549,
      "layer": [
        {"data": {"name": "boxes"}, "transform": [{"filter": "datum.panel === 'Warm lakes'"}],
         "mark": {"type": "rule", "color": "#333333", "strokeWidth": 3},
         "encoding": {
           "x": {"field": "model", "type": "nominal", "sort": ["FLake", "GLM", "GOTM", "Simstrat"], "title": "Model", "scale": {"paddingInner": 0, "paddingOuter": 0.1}},
           "xOffset": {"field": "metric", "type": "nominal", "sort": ["bias", "NSE", "R", "RMSE"], "scale": {"paddingInner": 0, "paddingOuter": 0.222}},
           "y": {"field": "lower", "type": "quantitative", "title": null, "scale": {"domain": [-0.096, 0.828], "nice": false, "zero": false},
                 "axis": {"values": [0, 0.1, 0.2, 0.3, 0.4, 0.5, 0.6, 0.7], "labels": false, "ticks": false, "domain": false,
                          "gridWidth": {"condition": {"test": "round(datum.value*10) % 2 != 0", "value": 1.5}, "value": 3}}},
           "y2": {"field": "upper"}
         }},
        {"data": {"name": "boxes"}, "transform": [{"filter": "datum.panel === 'Warm lakes'"}],
         "mark": {"type": "bar", "stroke": "#333333", "strokeWidth": 3},
         "encoding": {
           "x": {"field": "model", "type": "nominal", "sort": ["FLake", "GLM", "GOTM", "Simstrat"], "title": "Model"},
           "xOffset": {"field": "metric", "type": "nominal", "sort": ["bias", "NSE", "R", "RMSE"]},
           "y": {"field": "q1", "type": "quantitative", "title": null},
           "y2": {"field": "q3"},
           "color": {"field": "metric", "type": "nominal", "title": "Performance metric", "scale": {"domain": ["bias", "NSE", "R", "RMSE"], "range": ["#30123B", "#1AE4B6", "#FABA39", "#7A0403"]}}
         }},
        {"data": {"name": "boxes"}, "transform": [{"filter": "datum.panel === 'Warm lakes'"}],
         "mark": {"type": "bar", "fill": "#333333", "stroke": "#333333", "strokeWidth": 5.5},
         "encoding": {
           "x": {"field": "model", "type": "nominal", "sort": ["FLake", "GLM", "GOTM", "Simstrat"], "title": "Model"},
           "xOffset": {"field": "metric", "type": "nominal", "sort": ["bias", "NSE", "R", "RMSE"]},
           "y": {"field": "median", "type": "quantitative", "title": null},
           "y2": {"field": "median"}
         }},
        {"data": {"name": "outliers"}, "transform": [{"filter": "datum.panel === 'Warm lakes'"}],
         "mark": {"type": "point", "filled": true, "color": "#333333", "size": 130, "opacity": 1},
         "encoding": {
           "x": {"field": "model", "type": "nominal", "sort": ["FLake", "GLM", "GOTM", "Simstrat"], "title": "Model"},
           "xOffset": {"field": "metric", "type": "nominal", "sort": ["bias", "NSE", "R", "RMSE"]},
           "y": {"field": "value", "type": "quantitative", "title": null}
         }},
        {"data": {"values": [{"strip": "Warm lakes"}]},
         "mark": {"type": "rect", "fill": "#F0F0F0", "stroke": "#333333", "strokeWidth": 1.5},
         "encoding": {"y": {"datum": 0.732, "type": "quantitative", "title": null}, "y2": {"datum": 0.828}}},
        {"data": {"values": [{"strip": "Warm lakes"}]},
         "mark": {"type": "text", "fontSize": 30.5, "color": "#1A1A1A"},
         "encoding": {"y": {"datum": 0.780, "type": "quantitative", "title": null}, "text": {"field": "strip"}}}
      ]
    }
  ],
  "config": {
    "font": "Liberation Sans",
    "view": {"stroke": null},
    "axis": {
      "gridColor": "#EBEBEB",
      "domainColor": "#000000",
      "domainWidth": 2.8,
      "tickColor": "#333333",
      "tickWidth": 2.8,
      "labelColor": "#000000",
      "titleColor": "#000000",
      "titleFontWeight": "normal",
      "titleFontSize": 37
    },
    "axisX": {"labelFontSize": 37.5, "tickSize": 10, "labelPadding": 6, "labelAngle": 0, "gridWidth": 3, "titlePadding": 10},
    "axisY": {"labelFontSize": 37, "tickSize": 9, "labelPadding": 7},
    "legend": {
      "orient": "none",
      "legendX": 425,
      "legendY": -97,
      "direction": "horizontal",
      "titleOrient": "left",
      "titleFontSize": 38,
      "titleFontWeight": "normal",
      "titleColor": "#000000",
      "titleLimit": 800,
      "titlePadding": 19,
      "labelFontSize": 30.5,
      "labelColor": "#000000",
      "labelOffset": 22,
      "columnPadding": 16,
      "symbolType": "M-1,-0.68H1V0.68H-1Z M-1,0H1 M0,-1V-0.68 M0,0.68V1",
      "symbolSize": 1156,
      "symbolStrokeColor": "#333333",
      "symbolStrokeWidth": 2.8
    }
  }
}
